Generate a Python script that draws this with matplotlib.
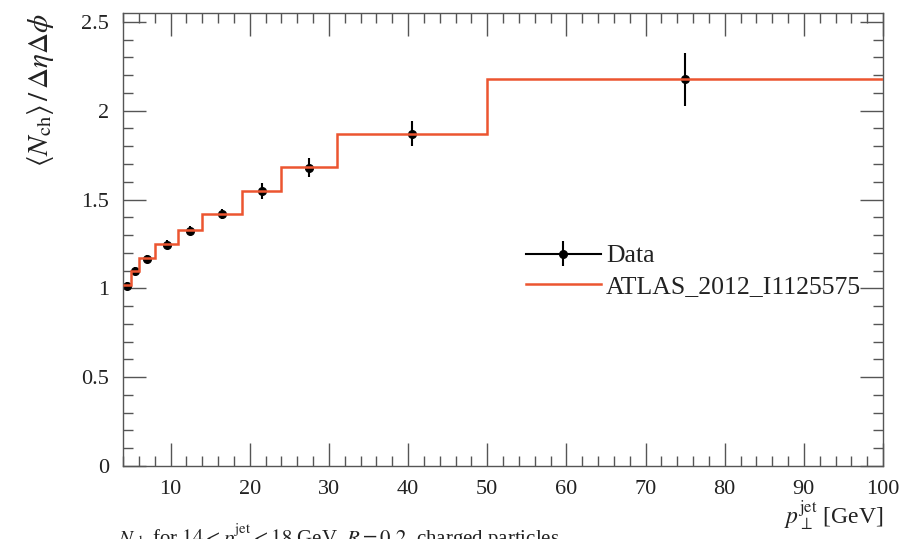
import matplotlib
matplotlib.use("Agg")
import matplotlib.pyplot as plt
import matplotlib.ticker as plticker
from matplotlib.lines import Line2D
import numpy as np

# bin edges in jet pT [GeV]
bin_edges = [4, 5, 6, 8, 11, 14, 19, 24, 31, 50, 100]
bin_centres = [4.5, 5.5, 7, 9.5, 12.5, 16.5, 21.5, 27.5, 40.5, 75]

# measured <Nch>/deta dphi and its uncertainty
data_vals = [1.015, 1.10, 1.165, 1.245, 1.325, 1.418, 1.547, 1.680, 1.870, 2.176]
data_errs = [0.02, 0.02, 0.02, 0.025, 0.025, 0.03, 0.045, 0.055, 0.07, 0.15]

# reference histogram
ref_vals = [1.02, 1.10, 1.17, 1.25, 1.33, 1.42, 1.55, 1.685, 1.870, 2.18]

ref_color = '#ec5530'
axis_color = '#555555'
text_color = '#222222'

plt.rcParams['font.family'] = ['Liberation Serif', 'DejaVu Serif']
plt.rcParams['mathtext.fontset'] = 'stix'

fig = plt.figure(figsize=(9.08, 5.39), dpi=100)
ax = fig.add_axes([0.1355, 0.1354, 0.837, 0.8405])

data_h = ax.errorbar(bin_centres, data_vals, yerr=data_errs, fmt='o', color='black',
                     markersize=5.5, elinewidth=1.5, capsize=0, zorder=2)
ref_h = ax.stairs(ref_vals, bin_edges, baseline=None, color=ref_color,
                  linewidth=1.8, zorder=3)

ax.set_xlim(4, 100)
ax.set_ylim(0, 2.55)

ax.xaxis.set_major_locator(plticker.MultipleLocator(10))
ax.xaxis.set_minor_locator(plticker.MultipleLocator(2))
ax.yaxis.set_major_locator(plticker.MultipleLocator(0.5))
ax.yaxis.set_minor_locator(plticker.MultipleLocator(0.1))
ax.yaxis.set_major_formatter(plticker.FuncFormatter(lambda v, p: '%g' % v))

ax.tick_params(which='both', direction='in', top=True, right=True,
               color=axis_color, width=1.0, labelsize=16, labelcolor=text_color)
ax.tick_params(which='major', length=16.5, pad=10)
ax.tick_params(which='minor', length=7)
for s in ax.spines.values():
    s.set_color(axis_color)
    s.set_linewidth(1.0)

ax.set_ylabel(r'$\langle N_\mathrm{ch}\rangle\,/\,\Delta\eta\Delta\phi$',
              fontsize=21, loc='top', color=text_color)
ax.yaxis.set_label_coords(-0.088, 1.0)
ax.set_xlabel(r'$p_\perp^\mathrm{jet}$ [GeV]', fontsize=17, loc='right',
              color=text_color, labelpad=0)

data_line = Line2D([], [], color='black', linewidth=1.5)
ref_line = Line2D([], [], color=ref_color, linewidth=1.8)
leg = ax.legend([(data_line, data_h), ref_line], ['Data', 'ATLAS_2012_I1125575'],
                loc='upper left', bbox_to_anchor=(0.5, 0.54), frameon=False,
                fontsize=18.5, handlelength=2.9, handletextpad=0.2,
                labelspacing=0.3)
for t in leg.get_texts():
    t.set_color(text_color)

fig.text(0.13, 0.005,
         r'$N_\mathrm{ch}$ for $14 < p_\perp^\mathrm{jet} < 18$ GeV, $R = 0.2$, charged particles',
         fontsize=15, color=text_color, va='center')

fig.savefig('out.png', dpi=100)
